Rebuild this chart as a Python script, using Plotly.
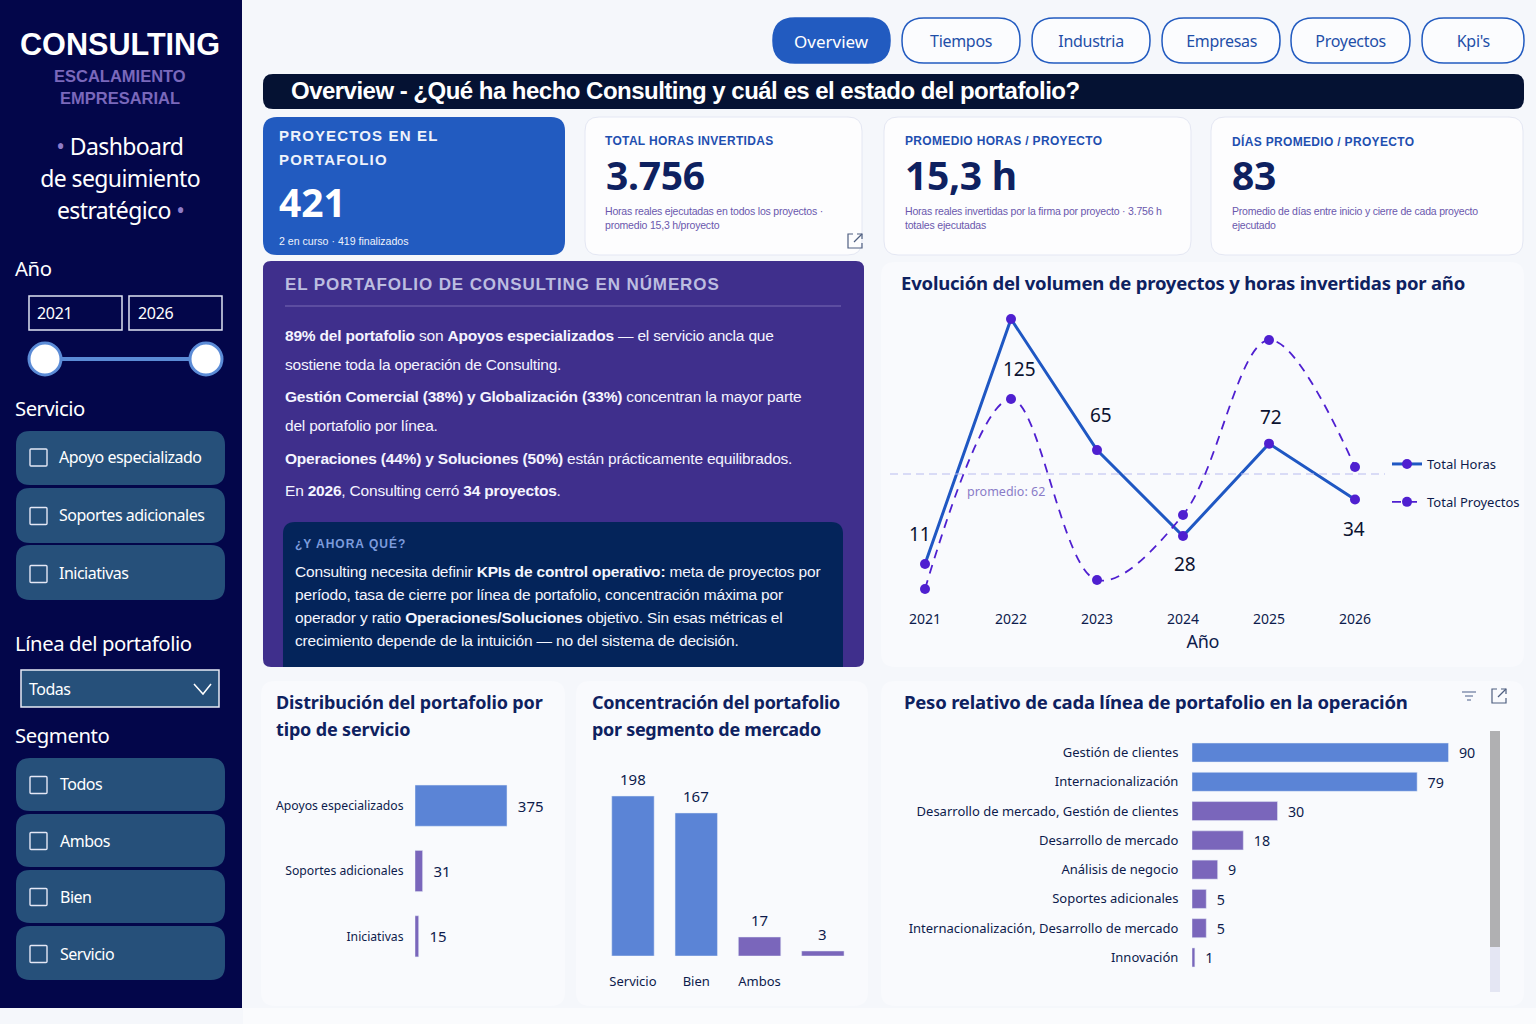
import json
import re
import plotly.graph_objects as go

# ---------- data ----------
years = [2021, 2022, 2023, 2024, 2025, 2026]
horas_plot = [11, 125, 64, 24, 67, 41]
horas_labels = [11, 125, 65, 28, 72, 34]
proyectos_plot = [4.5, 99.5, 9, 41.5, 129, 65.5]
promedio = 62

servicio_cats = ["Apoyos especializados", "Soportes adicionales", "Iniciativas"]
servicio_vals = [375, 31, 15]

segmento_cats = ["Servicio", "Bien", "Ambos", ""]
segmento_plot = [198, 177, 23.5, 6.2]
segmento_labels = [198, 167, 17, 3]

linea_cats = ["Gestión de clientes", "Internacionalización",
              "Desarrollo de mercado, Gestión de clientes", "Desarrollo de mercado",
              "Análisis de negocio", "Soportes adicionales",
              "Internacionalización, Desarrollo de mercado", "Innovación"]
linea_vals = [90, 79, 30, 18, 9, 5, 5, 1]

tabs = ["Overview", "Tiempos", "Industria", "Empresas", "Proyectos", "Kpi's"]
servicio_filtros = ["Apoyo especializado", "Soportes adicionales", "Iniciativas"]
segmento_filtros = ["Todos", "Ambos", "Bien", "Servicio"]

# ---------- helpers ----------
W, H = 1536, 1024
SANS = "Noto Sans"
ARIAL = "Liberation Sans"
NAVY = "#0e2160"
BLUE = "#225bc0"
BAR_BLUE = "#5b84d6"
BAR_PURPLE = "#7a66bb"
CARD = "#f9fafd"

shapes, notes = [], []
tracked = {}


def px(x):
    return x / W


def py(y):
    return 1 - y / H


def path(points, close=False, line=None, lw=1.0, fill=None):
    d = ""
    for i, (a, b) in enumerate(points):
        d += ("M" if i == 0 else "L") + f"{px(a):.5f},{py(b):.5f} "
    if close:
        d += "Z"
    shapes.append(dict(type="path", path=d, xref="paper", yref="paper", layer="below",
                       fillcolor=fill or "rgba(0,0,0,0)",
                       line=dict(color=line or "rgba(0,0,0,0)", width=lw)))


def rr(x0, y0, x1, y1, r, fill, line=None, lw=1.0, r_bottom=None):
    rb = r if r_bottom is None else r_bottom
    d = (f"M{px(x0+r):.5f},{py(y0):.5f} L{px(x1-r):.5f},{py(y0):.5f} "
         f"Q{px(x1):.5f},{py(y0):.5f} {px(x1):.5f},{py(y0+r):.5f} "
         f"L{px(x1):.5f},{py(y1-rb):.5f} Q{px(x1):.5f},{py(y1):.5f} {px(x1-rb):.5f},{py(y1):.5f} "
         f"L{px(x0+rb):.5f},{py(y1):.5f} Q{px(x0):.5f},{py(y1):.5f} {px(x0):.5f},{py(y1-rb):.5f} "
         f"L{px(x0):.5f},{py(y0+r):.5f} Q{px(x0):.5f},{py(y0):.5f} {px(x0+r):.5f},{py(y0):.5f} Z")
    shapes.append(dict(type="path", path=d, xref="paper", yref="paper", layer="below",
                       fillcolor=fill,
                       line=dict(color=line or "rgba(0,0,0,0)", width=lw if line else 0)))


def circle(cx, cy, r, fill, line, lw):
    shapes.append(dict(type="circle", xref="paper", yref="paper", layer="below",
                       x0=px(cx - r), x1=px(cx + r), y0=py(cy + r), y1=py(cy - r),
                       fillcolor=fill, line=dict(color=line, width=lw)))


def T(x, y, text, size, color, font=SANS, anchor="left", track=0):
    notes.append(dict(x=px(x), y=py(y), xref="paper", yref="paper", text=text, showarrow=False,
                      xanchor=anchor, yanchor="middle", align=anchor, borderpad=0, borderwidth=0,
                      font=dict(size=size, color=color, family=font)))
    if track:
        tracked[re.sub(r"<[^>]+>", "", text)] = track


def expand_icon(cx, cy, color="#4f5f80"):
    path([(cx - 2, cy - 7), (cx - 7, cy - 7), (cx - 7, cy + 7), (cx + 7, cy + 7), (cx + 7, cy + 2)], line=color, lw=1.2)
    path([(cx - 1, cy + 1), (cx + 7, cy - 7)], line=color, lw=1.2)
    path([(cx + 2, cy - 7), (cx + 7, cy - 7), (cx + 7, cy - 2)], line=color, lw=1.2)


# ---------- page structure ----------
rr(0, -4, 242, 1008, 0, "#03064a")
rr(243, 1008, 1536, 1024, 0, "#fafbfd")

# sidebar
T(120, 44, "<b>CONSULTING</b>", 30.6, "#ffffff", ARIAL, "center")
T(120, 76, "<b>ESCALAMIENTO</b>", 16.5, "#7a68bb", ARIAL, "center")
T(120, 98, "<b>EMPRESARIAL</b>", 16.5, "#7a68bb", ARIAL, "center")
T(120, 146, "<span style='color:#8f7cc8'>•</span> Dashboard", 23, "#ffffff", SANS, "center", -0.6)
T(120, 178, "de seguimiento", 23, "#ffffff", SANS, "center", -0.6)
T(120, 210, "estratégico <span style='color:#8f7cc8'>•</span>", 23, "#ffffff", SANS, "center", -0.6)

T(15, 268, "Año", 20.3, "#ffffff", track=-0.4)
rr(29, 296, 122, 330, 0, "#03064a", "#dfe3f2", 1.5)
rr(129, 296, 222, 330, 0, "#03064a", "#dfe3f2", 1.5)
T(37, 313, "2021", 16, "#ffffff", track=-0.3)
T(138, 313, "2026", 16, "#ffffff", track=-0.3)
path([(45, 359), (206, 359)], line="#5b8bd6", lw=4)
circle(45, 359, 16, "#ffffff", "#5b8bd6", 3)
circle(206, 359, 16, "#ffffff", "#5b8bd6", 3)

BTN = "#26507a"


def filtro(y0, y1, label, box_y, text_y, text_x):
    rr(16, y0, 225, y1, 14, BTN)
    rr(30, box_y - 8.5, 47, box_y + 8.5, 1, "rgba(0,0,0,0)", "#e4e7f5", 1.4)
    T(text_x, text_y, label, 16, "#ffffff", track=-0.5)


T(15, 408, "Servicio", 20.3, "#ffffff", track=-0.4)
for (a, b, by, ty), lab in zip([(425 + 6, 485, 457.5, 457), (488, 543, 516, 515), (545, 600, 574, 573)], servicio_filtros):
    filtro(a, b, lab, by, ty, 59)

T(15, 643, "Línea del portafolio", 20.3, "#ffffff", track=-0.4)
rr(21, 670, 219, 707, 0, BTN, "#e8ebf6", 1.5)
T(29, 689, "Todas", 16, "#ffffff", track=-0.5)
path([(194, 684), (203, 694), (211, 684)], line="#ffffff", lw=1.5)

T(15, 735, "Segmento", 20.3, "#ffffff", track=-0.4)
for (a, b, by, ty), lab in zip([(758, 811, 785, 784), (814, 867, 841, 841), (870, 923, 897, 897), (926, 980, 954, 954)],
                               segmento_filtros):
    filtro(a, b, lab, by, ty, 60)

# tabs
tab_pos = [(773, 890), (902, 1020), (1032, 1150), (1162, 1280), (1291, 1410), (1422, 1524)]
for i, ((a, b), lab) in enumerate(zip(tab_pos, tabs)):
    rr(a, 18, b, 63, 22, BLUE if i == 0 else "#fbfcfe", BLUE, 1.5)
    if i == 0:
        T((a + b) / 2, 41, lab, 17, "#ffffff", SANS, "center")
    else:
        T((a + b) / 2, 41, lab, 16, "#1f4fa8", SANS, "center", -0.3)

# header
rr(263, 74, 1524, 109, 10, "#051233")
T(291, 90, "<b>Overview - ¿Qué ha hecho Consulting y cuál es el estado del portafolio?</b>", 24, "#ffffff", ARIAL,
  track=-0.52)

# KPI cards
rr(263, 117, 565, 255, 14, BLUE)
T(279, 135, "<b>PROYECTOS EN EL</b>", 15, "#eef2fb", ARIAL, track=1.15)
T(279, 159, "<b>PORTAFOLIO</b>", 15, "#eef2fb", ARIAL, track=1.15)
T(279, 201, "<b>421</b>", 39, "#ffffff", SANS)
T(279, 241, "2 en curso · 419 finalizados", 10.6, "#eef2fb", ARIAL)

kpis = [
    (585, 862, 605, 606, "TOTAL HORAS INVERTIDAS", "3.756",
     "Horas reales ejecutadas en todos los proyectos ·", "promedio 15,3 h/proyecto"),
    (884, 1191, 905, 905, "PROMEDIO HORAS / PROYECTO", "15,3 h",
     "Horas reales invertidas por la firma por proyecto · 3.756 h", "totales ejecutadas"),
    (1211, 1523, 1232, 1232, "DÍAS PROMEDIO / PROYECTO", "83",
     "Promedio de días entre inicio y cierre de cada proyecto", "ejecutado"),
]
for a, b, tx, vx, title, val, l1, l2 in kpis:
    rr(a, 117, b, 255, 14, "#fdfdfe", "#e4e7f3", 1)
    T(tx, 141, f"<b>{title}</b>", 12, "#1f4fb0", ARIAL, track=0.33)
    T(vx, 174, f"<b>{val}</b>", 39, NAVY, SANS, track=-0.3)
    T(tx, 211, l1, 10.5, "#6a58ad", ARIAL, track=-0.2)
    T(tx, 225, l2, 10.5, "#6a58ad", ARIAL, track=-0.2)
expand_icon(855, 241)

# purple panel
rr(263, 261, 864, 667, 8, "#3f2f8c")
T(285, 284, "<b>EL PORTAFOLIO DE CONSULTING EN NÚMEROS</b>", 17, "#bcbde0", ARIAL, track=0.9)
path([(285, 306), (841, 306)], line="#7a6db5", lw=1)
body = [
    (335, "<b>89% del portafolio</b> son <b>Apoyos especializados</b> — el servicio ancla que"),
    (364, "sostiene toda la operación de Consulting."),
    (396, "<b>Gestión Comercial (38%) y Globalización (33%)</b> concentran la mayor parte"),
    (425, "del portafolio por línea."),
    (458, "<b>Operaciones (44%) y Soluciones (50%)</b> están prácticamente equilibrados."),
    (490, "En <b>2026</b>, Consulting cerró <b>34 proyectos</b>."),
]
for y, s in body:
    T(285, y, s, 15.5, "#f4f4ff", ARIAL, track=-0.2)
rr(283, 522, 843, 667, 12, "#04245a", r_bottom=0.1)
T(295, 543, "<b>¿Y AHORA QUÉ?</b>", 12, "#7c9bdc", ARIAL, track=1.0)
ahora = [
    (571, "Consulting necesita definir <b>KPIs de control operativo:</b> meta de proyectos por"),
    (594, "período, tasa de cierre por línea de portafolio, concentración máxima por"),
    (617, "operador y ratio <b>Operaciones/Soluciones</b> objetivo. Sin esas métricas el"),
    (640, "crecimiento depende de la intuición — no del sistema de decisión."),
]
for y, s in ahora:
    T(295, y, s, 15.5, "#f4f6ff", ARIAL, track=-0.16)

# chart cards
rr(881, 262, 1524, 667, 14, CARD)
rr(261, 681, 565, 1006, 14, CARD)
rr(576, 681, 868, 1006, 14, CARD)
rr(881, 681, 1524, 1006, 14, CARD)
T(901, 282, "<b>Evolución del volumen de proyectos y horas invertidas por año</b>", 18.5, NAVY, track=-0.2)
T(276, 702, "<b>Distribución del portafolio por</b>", 18, NAVY, track=-0.15)
T(276, 729, "<b>tipo de servicio</b>", 18, NAVY, track=-0.15)
T(592, 702, "<b>Concentración del portafolio</b>", 18, NAVY, track=-0.3)
T(592, 729, "<b>por segmento de mercado</b>", 18, NAVY, track=-0.3)
T(904, 701, "<b>Peso relativo de cada línea de portafolio en la operación</b>", 18.5, NAVY, track=-0.21)

# icons + scrollbar of the last card
path([(1462, 692), (1476, 692)], line="#5a6b94", lw=1.1)
path([(1465, 696), (1473, 696)], line="#5a6b94", lw=1.1)
path([(1467, 700), (1471, 700)], line="#5a6b94", lw=1.1)
expand_icon(1499, 696)
rr(1490, 731, 1500, 947, 0, "#b0b0b2")
rr(1490, 947, 1500, 992, 0, "#e4e6f3")

# ---------- charts ----------
fig = go.Figure()

# line chart
LX0, LX1, LY0, LY1 = 890, 1385, 300, 600
PPY = 86.0
X21 = 925
xr = [2021 - (X21 - LX0) / PPY, 2021 + (LX1 - X21) / PPY]
y1r = [11 + (564 - LY1) / 2.149, 11 + (564 - LY0) / 2.149]
y2r = [(598 - LY1) / 2.0, (598 - LY0) / 2.0]
LINE_BLUE = "#1f57c3"
MARK = "#4f1fd0"
fig.add_trace(go.Scatter(x=[xr[0], xr[1]], y=[promedio, promedio], xaxis="x", yaxis="y2", mode="lines",
                         line=dict(color="#b9bcf0", width=1.2, dash="8px,5px"),
                         showlegend=False, hoverinfo="skip"))
fig.add_trace(go.Scatter(x=years, y=horas_plot, xaxis="x", yaxis="y", name="Total Horas",
                         mode="lines+markers", legendgroup="a",
                         line=dict(color=LINE_BLUE, width=3),
                         marker=dict(color=MARK, size=10)))
fig.add_trace(go.Scatter(x=years, y=proyectos_plot, xaxis="x", yaxis="y2", name="Total Proyectos",
                         mode="lines+markers", legendgroup="b",
                         line=dict(color=MARK, width=1.8, dash="9px,7px", shape="spline", smoothing=1.0),
                         marker=dict(color=MARK, size=10)))

shifts = [(-5, 30), (8, -50), (4, 35), (2, -28), (2, 27), (-1, -29)]
for yr, v, lab, (dx, dy) in zip(years, horas_plot, horas_labels, shifts):
    notes.append(dict(x=yr, y=v, xref="x", yref="y", text=str(lab), showarrow=False,
                      xshift=dx, yshift=dy, font=dict(size=19, color="#0b1230", family=SANS)))
T(1006, 491, "promedio: 62", 12.5, "#8a7cc8", SANS, "center")
T(1203, 641, "Año", 18, "#0d1b4c", SANS, "center")

# service bars
fig.add_trace(go.Bar(y=servicio_cats, x=servicio_vals, orientation="h", xaxis="x2", yaxis="y3",
                     marker=dict(color=[BAR_BLUE, BAR_PURPLE, BAR_PURPLE]), width=0.63,
                     text=["\u00a0\u00a0" + str(v) for v in servicio_vals], textposition="outside",
                     cliponaxis=False, showlegend=False,
                     textfont=dict(size=15, color="#0d1b4c", family=SANS)))

# segment bars
fig.add_trace(go.Bar(x=list(range(4)), y=segmento_plot, xaxis="x3", yaxis="y4",
                     marker=dict(color=[BAR_BLUE, BAR_BLUE, BAR_PURPLE, BAR_PURPLE]), width=0.67,
                     cliponaxis=False, showlegend=False))
for i, (v, lab) in enumerate(zip(segmento_plot, segmento_labels)):
    notes.append(dict(x=i, y=v, xref="x3", yref="y4", text=str(lab), showarrow=False, yshift=17,
                      font=dict(size=15, color="#0d1b4c", family=SANS)))

# line-of-portfolio bars
fig.add_trace(go.Bar(y=linea_cats, x=linea_vals, orientation="h", xaxis="x4", yaxis="y5",
                     marker=dict(color=[BAR_BLUE, BAR_BLUE] + [BAR_PURPLE] * 6), width=0.65,
                     text=["\u00a0\u00a0" + str(v) for v in linea_vals], textposition="outside",
                     cliponaxis=False, showlegend=False,
                     textfont=dict(size=15, color="#0d1b4c", family=SANS)))

hidden = dict(visible=False, showgrid=False, zeroline=False, fixedrange=True)


def dom_x(a, b):
    return [a / W, b / W]


def dom_y(top, bottom):
    return [1 - bottom / H, 1 - top / H]


cat_axis = dict(showgrid=False, zeroline=False, showline=False, ticks="outside", ticklen=10,
                tickcolor="rgba(0,0,0,0)", fixedrange=True, automargin=False)

layout = dict(
    width=W, height=H, margin=dict(l=0, r=0, t=0, b=0), autosize=False,
    paper_bgcolor="#f5f7fb", plot_bgcolor="rgba(0,0,0,0)",
    shapes=shapes, annotations=notes,
    font=dict(family=SANS, color=NAVY),
    hovermode=False,
    legend=dict(x=px(1387), y=py(449), xanchor="left", yanchor="top", bgcolor="rgba(0,0,0,0)",
                tracegroupgap=18, itemwidth=30, font=dict(size=13, color="#0d1b4c", family=SANS)),
    xaxis=dict(domain=dom_x(LX0, LX1), range=xr, tickvals=years, ticktext=[str(y) for y in years],
               anchor="y", showgrid=False, zeroline=False, showline=False, ticks="outside", ticklen=6,
               tickcolor="rgba(0,0,0,0)", tickfont=dict(size=14, color="#0d1b4c"), fixedrange=True),
    yaxis=dict(domain=dom_y(LY0, LY1), range=y1r, **hidden),
    yaxis2=dict(domain=dom_y(LY0, LY1), range=y2r, overlaying="y", **hidden),
    xaxis2=dict(domain=dom_x(415, 560), range=[0, 145 / 0.2453], anchor="y3", **hidden),
    yaxis3=dict(domain=dom_y(773, 969), range=[2.5, -0.5], anchor="x2", type="category",
                tickfont=dict(size=12.2, color="#0d1b4c"), **{**cat_axis, "ticklen": 8}),
    xaxis3=dict(domain=dom_x(601.3, 854.5), range=[-0.5, 3.5], anchor="y4", tickvals=[0, 1, 2],
                ticktext=segmento_cats[:3], tickfont=dict(size=13, color="#0d1b4c"), **{**cat_axis, "ticklen": 13}),
    yaxis4=dict(domain=dom_y(770, 956), range=[0, 186 / 0.808], anchor="x3", **hidden),
    xaxis4=dict(domain=dom_x(1192, 1490), range=[0, 298 / 2.85], anchor="y5", **hidden),
    yaxis5=dict(domain=dom_y(737.9, 972.1), range=[7.5, -0.5], anchor="x4", type="category",
                tickfont=dict(size=13, color="#0d1b4c"), **cat_axis),
)
fig.update_layout(**layout)

post = ("document.body.style.margin='0';document.body.style.overflow='hidden';"
        "var t=" + json.dumps(tracked) + ";"
        "document.querySelectorAll('.annotation-text').forEach(function(e){"
        "var s=t[e.textContent];if(s){e.style.letterSpacing=s+'px';}});")
fig.write_html("out.html", config=dict(displayModeBar=False, staticPlot=True), post_script=post)
